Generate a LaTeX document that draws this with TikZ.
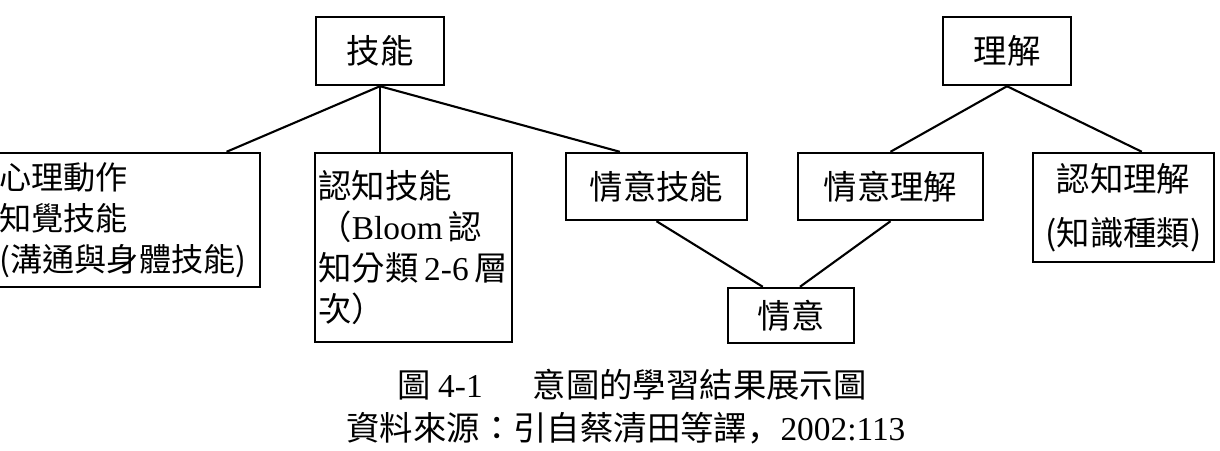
\documentclass[tikz,border=0pt]{standalone}
\usepackage{fontspec}
\setmainfont{Liberation Serif}
\newfontfamily\cjk{Noto Sans CJK TC}
\newfontfamily\cjkjp{Noto Sans CJK JP}
\usetikzlibrary{calc}

\tikzset{
    box/.style={draw, line width=1.4pt, inner xsep=0.07cm, inner ysep=0pt,
        font=\cjk\fontsize{19}{23.2}\selectfont},
    link/.style={line width=1.2pt},
    caption/.style={inner sep=0pt, font=\cjk\fontsize{19}{23}\selectfont},
}

\begin{document}
\begin{tikzpicture}[x=0.02cm, y=-0.02cm]
    % Canvas (pixel units, y downwards)
    \useasboundingbox (0,0) rectangle (1220,450);

    % Top level
    \node[box, minimum width=2.56cm, minimum height=1.36cm] (jn) at (380,51) {技能};
    \node[box, minimum width=2.56cm, minimum height=1.36cm] (lj) at (1007,51) {理解};

    % Second level
    \node[box, text width=5.14cm, align=left, minimum height=2.68cm,
        font=\cjk\fontsize{18.3}{23.2}\selectfont] (xl) at (128,220)
        {心理動作\\知覺技能\\(溝通與身體技能)};
    \node[box, text width=3.8cm, align=left, minimum height=3.78cm] (rzjn) at (413.5,247.5)
        {認知技能\\\mbox{（{\rmfamily Bloom}\,認}\\\mbox{知分類\,{\rmfamily 2-6}\,層}\\次）};
    \node[box, minimum width=3.62cm, minimum height=1.34cm] (qyjn) at (656.5,186.5) {情意技能};
    \node[box, minimum width=3.7cm, minimum height=1.34cm] (qylj) at (890.5,186.5) {情意理解};
    \node[box, minimum width=3.62cm, minimum height=2.18cm, align=center] (rzlj) at (1123.5,207.5)
        {認知理解\\[7.5pt](知識種類)};

    % Bottom
    \node[box, minimum width=2.52cm, minimum height=1.1cm] (qy) at (791,315.5) {情意};

    % Connectors
    \draw[link] (jn.south) -- ($(xl.north west)!0.87!(xl.north east)$);
    \draw[link] (jn.south) -- (jn.south |- rzjn.north);
    \draw[link] (jn.south) -- ($(qyjn.north west)!0.3!(qyjn.north east)$);
    \draw[link] (lj.south) -- (qylj.north);
    \draw[link] (lj.south) -- ($(rzlj.north west)!0.6!(rzlj.north east)$);
    \draw[link] (qyjn.south) -- ($(qy.north west)!0.28!(qy.north east)$);
    \draw[link] (qylj.south) -- ($(qy.north west)!0.57!(qy.north east)$);

    % Caption
    \node[caption] (cap1) at (632,385) {圖 {\rmfamily 4-1}\hspace{1.5em}意圖的學習結果展示圖};
    \node[caption] (cap2) at (626,428) {資料來源：引自蔡清田等譯{\cjkjp ，}{\rmfamily 2002:113}};
\end{tikzpicture}
\end{document}
